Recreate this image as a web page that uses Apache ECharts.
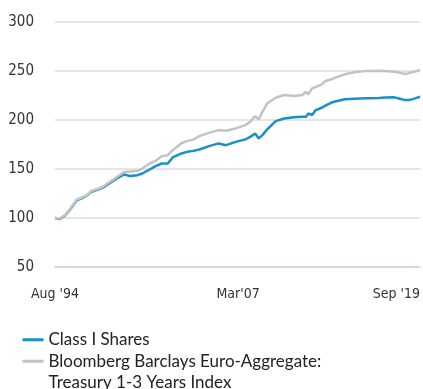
<!DOCTYPE html>
<html>
<head>
<meta charset="utf-8">
<script src="https://cdn.jsdelivr.net/npm/echarts@6/dist/echarts.min.js"></script>
<style>
  html, body { margin: 0; padding: 0; background: #fff; }
  #chart { width: 423px; height: 389px; }
</style>
</head>
<body>
<div id="chart"></div>
<script>
// Growth of 100 since launch, month-end observations
const dates = [
  '1994-08','1994-12','1995-04','1995-08','1996-02','1996-06','1996-10','1997-02',
  '1997-08','1997-12','1998-05','1998-11','1999-05','1999-10','2000-04','2000-08',
  '2001-02','2001-07','2001-12','2002-05','2002-09','2003-04','2003-09','2004-02',
  '2004-07','2005-03','2005-11','2006-05','2007-01','2007-09','2008-01','2008-05',
  '2008-08','2008-11','2009-03','2009-10','2010-05','2011-01','2011-08','2011-11',
  '2012-01','2012-04','2012-07','2012-12','2013-03','2013-08','2013-11','2014-07',
  '2015-03','2015-12','2016-05','2016-11','2017-04','2017-12','2018-06','2018-08',
  '2018-11','2019-02','2019-05','2019-09'
];

const classShares = [
  100.0, 99.0, 102.3, 107.9, 118.1, 120.1, 122.7, 126.8,
  129.3, 131.4, 135.5, 140.3, 144.4, 142.9, 143.7, 145.4,
  149.5, 152.9, 155.6, 155.6, 161.8, 165.8, 167.5, 168.5,
  169.9, 173.3, 176.1, 174.3, 177.7, 180.2, 182.8, 186.3,
  181.2, 184.6, 190.4, 198.9, 201.6, 202.7, 203.3, 203.3,
  206.7, 205.0, 210.1, 212.5, 214.7, 217.8, 218.8, 221.1,
  221.6, 222.1, 222.1, 222.5, 222.9, 223.1, 221.1, 220.5,
  220.3, 221.0, 222.1, 223.7
];

const benchmark = [
  100.0, 99.4, 102.8, 108.6, 118.8, 120.9, 123.2, 127.6,
  130.1, 132.4, 136.8, 141.9, 147.0, 147.4, 148.1, 150.5,
  155.6, 158.3, 163.1, 164.1, 169.2, 176.1, 178.7, 180.0,
  183.5, 186.9, 189.7, 189.0, 191.4, 194.8, 198.2, 204.0,
  200.6, 208.4, 217.0, 222.7, 225.5, 224.4, 225.5, 228.8,
  226.2, 232.3, 233.5, 236.4, 239.8, 241.5, 243.1, 246.6,
  248.7, 250.0, 250.0, 250.2, 250.0, 249.3, 248.0, 246.9,
  247.5, 248.7, 249.5, 251.0
];

const seriesNames = [
  'Class I Shares',
  'Bloomberg Barclays Euro-Aggregate:\nTreasury 1-3 Years Index'
];

const tickDates = ['1994-08', '2007-03', '2019-09'];
const tickLabels = ["Aug '94", "Mar'07", "Sep '19"];

const yMin = 50, yMax = 300, yStep = 50;

// months elapsed since the first observation
const [y0, m0] = dates[0].split('-').map(Number);
const monthIndex = s => {
  const [y, m] = s.split('-').map(Number);
  return (y - y0) * 12 + (m - m0);
};
const tickPos = tickDates.map(monthIndex);

const axisFont = "'DejaVu Sans Condensed', sans-serif";
const legendFont = "Lato, 'Noto Sans', sans-serif";
const legendText = { fontFamily: legendFont, fontSize: 17, color: '#222222', lineHeight: 21.5 };

const chart = echarts.init(document.getElementById('chart'), null, { renderer: 'canvas' });

chart.setOption({
  animation: false,
  backgroundColor: '#ffffff',
  grid: { left: 55, right: 1, top: 22, bottom: 122, containLabel: false },
  xAxis: {
    type: 'value',
    min: tickPos[0],
    max: tickPos[tickPos.length - 1],
    axisLine: { show: true, lineStyle: { color: '#c9d5e2', width: 1.5 } },
    axisTick: { show: false },
    splitLine: { show: false },
    axisLabel: {
      customValues: tickPos,
      alignMaxLabel: 'right',
      margin: 20,
      color: '#333333',
      fontFamily: axisFont,
      fontSize: 14,
      formatter: v => {
        const i = tickPos.indexOf(v);
        return i >= 0 ? tickLabels[i] : '';
      }
    }
  },
  yAxis: {
    type: 'value',
    min: yMin,
    max: yMax,
    interval: yStep,
    axisLine: { show: false },
    axisTick: { show: false },
    splitLine: { show: true, lineStyle: { color: '#dedede', width: 1.5 } },
    axisLabel: {
      margin: 21,
      color: '#333333',
      fontFamily: axisFont,
      fontSize: 15
    }
  },
  legend: [
    {
      data: [seriesNames[0]],
      orient: 'vertical',
      left: 17.5,
      top: 324,
      itemWidth: 21,
      itemHeight: 3,
      icon: 'rect',
      selectedMode: false,
      textStyle: legendText
    },
    {
      data: [seriesNames[1]],
      orient: 'vertical',
      left: 17.5,
      top: 324,
      itemWidth: 21,
      itemHeight: 3,
      icon: 'rect',
      selectedMode: false,
      // leading blank line keeps the marker level with the first text line
      formatter: name => '\n' + name,
      textStyle: legendText
    }
  ],
  series: [
    {
      name: seriesNames[0],
      type: 'line',
      data: dates.map((d, i) => [monthIndex(d), classShares[i]]),
      showSymbol: false,
      color: '#1a8fcd',
      lineStyle: { width: 2.5, color: '#1a8fcd' }
    },
    {
      name: seriesNames[1],
      type: 'line',
      data: dates.map((d, i) => [monthIndex(d), benchmark[i]]),
      showSymbol: false,
      color: '#c3c3c3',
      lineStyle: { width: 2.5, color: '#c3c3c3' }
    }
  ]
});
</script>
</body>
</html>
